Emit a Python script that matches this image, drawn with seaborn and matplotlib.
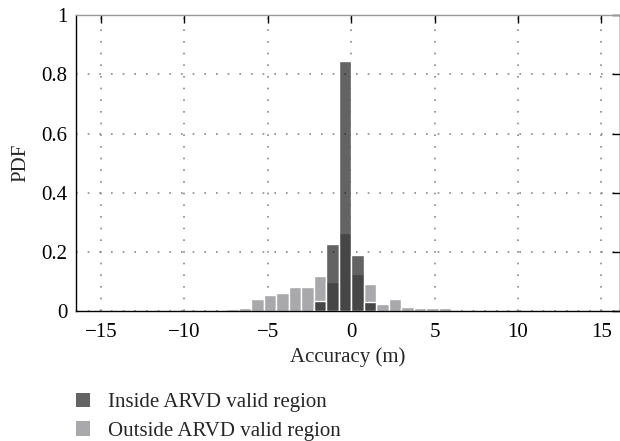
import numpy as np
import pandas as pd
import matplotlib
matplotlib.use("Agg")
import matplotlib.pyplot as plt
import seaborn as sns
from matplotlib.patches import Patch

# binned PDF values (bin width 0.75 m)
outside_edges = [-7.5 + 0.75 * i for i in range(19)]
outside_pdf = [0.009, 0.011, 0.042, 0.055, 0.062, 0.082, 0.082, 0.12, 0.10,
               0.265, 0.126, 0.092, 0.026, 0.042, 0.014, 0.011, 0.011, 0.011]
inside_edges = [-2.25, -1.5, -0.75, 0.0, 0.75, 1.5]
inside_pdf = [0.035, 0.227, 0.845, 0.19, 0.031]

x_ticks = [-15, -10, -5, 0, 5, 10, 15]
y_ticks = [0, 0.2, 0.4, 0.6, 0.8, 1]
y_labels = ["0", "0.2", "0.4", "0.6", "0.8", "1"]

sns.set_style("white")
plt.rcParams['font.family'] = ['Liberation Serif', 'DejaVu Serif']
fs = 15

oe = np.array(outside_edges)
ie = np.array(inside_edges)
out_df = pd.DataFrame({'x': (oe[:-1] + oe[1:]) / 2, 'w': outside_pdf})
in_df = pd.DataFrame({'x': (ie[:-1] + ie[1:]) / 2, 'w': inside_pdf})

fig = plt.figure(figsize=(6.2, 4.41), dpi=100)
ax = fig.add_axes([0.1226, 0.2937, 0.877, 0.672])

sns.histplot(data=out_df, x='x', weights='w', bins=outside_edges, ax=ax,
             color='#a9a9ab', alpha=1, edgecolor='white', linewidth=1, zorder=2)
sns.histplot(data=in_df, x='x', weights='w', bins=inside_edges, ax=ax,
             color='#161616', alpha=0.67, edgecolor='white', linewidth=1, zorder=3)

ax.set_xlim(-16.5, 16.1)
ax.set_ylim(0, 1)
ax.set_xticks(x_ticks)
ax.set_yticks(y_ticks)
ax.set_yticklabels(y_labels)
ax.grid(True, linestyle=(0, (1, 6)), color='#8a8a8a', linewidth=1.2, zorder=1)
ax.set_axisbelow(True)
ax.tick_params(direction='in', length=6, width=1, top=True, right=True,
               labelsize=fs, pad=6, colors='black')
ax.tick_params(axis='x', pad=8)
for s in ax.spines.values():
    s.set_color('black')
    s.set_linewidth(1)
ax.spines['top'].set_color('#999999')
ax.set_xlabel('Accuracy (m)', fontsize=fs, labelpad=4)
ax.set_ylabel('PDF', fontsize=fs, labelpad=8)

handles = [Patch(facecolor='#646464', edgecolor='none', label='Inside ARVD valid region'),
           Patch(facecolor='#a9a9ab', edgecolor='none', label='Outside ARVD valid region')]
fig.legend(handles=handles, loc='upper left', bbox_to_anchor=(0.105, 0.133),
           frameon=False, fontsize=fs, handlelength=0.7, handleheight=0.7,
           handletextpad=0.85, labelspacing=0.42, borderpad=0)

plt.savefig('out.png', dpi=100)
print("saved out.png")
